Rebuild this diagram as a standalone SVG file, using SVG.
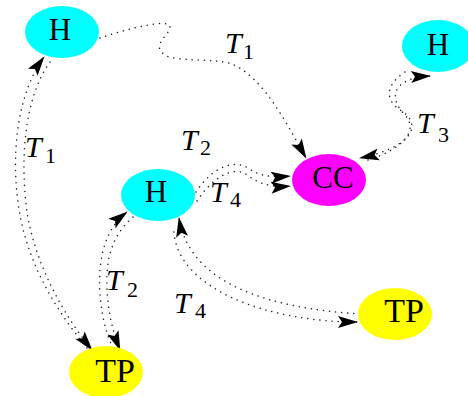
<svg xmlns="http://www.w3.org/2000/svg" width="468" height="396" viewBox="0 0 468 396">
<style>
.e{fill:none;stroke:#222;stroke-width:1.5;stroke-dasharray:0.1 6;stroke-linecap:round;marker-end:url(#ah)}
.nt{font-family:"Liberation Serif",serif;font-size:31px;fill:#000;text-anchor:middle}
.tp{font-size:34px}
.t{font-family:"Liberation Serif",serif;font-style:italic;font-size:30px;fill:#000}
.s{font-family:"Liberation Serif",serif;font-size:22px;fill:#000}
</style>
<defs>
<marker id="ah" markerUnits="userSpaceOnUse" markerWidth="22" markerHeight="14" refX="19" refY="6" orient="auto" overflow="visible">
<path d="M0,0 L20,6 L0,12 L4,6 z" fill="#000"/>
</marker>
</defs>
<rect width="468" height="396" fill="#fff"/>
<g id="connectors">
<path class="e" d="M100,38 C130,28 170,18 170,27 C170,35 150,45 165,55 C175,62 215,58 232,64 C265,78 290,130 306,158"/>
<path class="e" d="M87,348 C60,315 30,270 20,215 C10,160 16,95 44,57"/>
<path class="e" d="M50,62 C24,98 20,160 27,212 C36,268 66,318 92,350"/>
<path class="e" d="M113,348 C104,330 98,300 100,270 C102,245 110,225 127,212"/>
<path class="e" d="M133,217 C116,232 108,250 107,275 C106,305 112,330 120,350"/>
<path class="e" d="M174,232 C178,290 270,322 357,322"/>
<path class="e" d="M360,314 C270,308 190,285 179,218"/>
<path class="e" d="M196,192 C210,170 232,158 248,168 C258,175 268,178 290,176"/>
<path class="e" d="M197,201 C212,178 232,166 246,174 C256,182 268,188 290,186"/>
<path class="e" d="M368,160 C400,150 420,132 405,115 C388,98 392,78 430,76"/>
<path class="e" d="M405,72 C385,85 385,100 400,110 C425,125 410,148 360,158"/>
</g>
<g id="H1"><ellipse cx="62" cy="32" rx="37" ry="26" fill="#00ffff"/><text class="nt" x="60" y="40">H</text></g>
<g id="H2"><ellipse cx="438" cy="46" rx="36" ry="26" fill="#00ffff"/><text class="nt" x="438" y="55">H</text></g>
<g id="CC"><ellipse cx="329" cy="180" rx="37" ry="26" fill="#ff00ff"/><text class="nt" x="333" y="188">CC</text></g>
<g id="H3"><ellipse cx="158" cy="195" rx="37" ry="26" fill="#00ffff"/><text class="nt" x="156" y="202">H</text></g>
<g id="TP1"><ellipse cx="106" cy="372" rx="37" ry="26" fill="#ffff00"/><text class="nt tp" x="115" y="382">TP</text></g>
<g id="TP2"><ellipse cx="395" cy="314" rx="37" ry="26" fill="#ffff00"/><text class="nt tp" x="404" y="322">TP</text></g>
<g id="labels">
<text class="t" x="225" y="53">T</text><text class="s" x="243" y="59">1</text>
<text class="t" x="25" y="157">T</text><text class="s" x="45" y="163">1</text>
<text class="t" x="181" y="150">T</text><text class="s" x="200" y="155">2</text>
<text class="t" x="417" y="133">T</text><text class="s" x="438" y="142">3</text>
<text class="t" x="210" y="202">T</text><text class="s" x="230" y="207">4</text>
<text class="t" x="106" y="290">T</text><text class="s" x="127" y="297">2</text>
<text class="t" x="174" y="313">T</text><text class="s" x="195" y="318">4</text>
</g>
</svg>
